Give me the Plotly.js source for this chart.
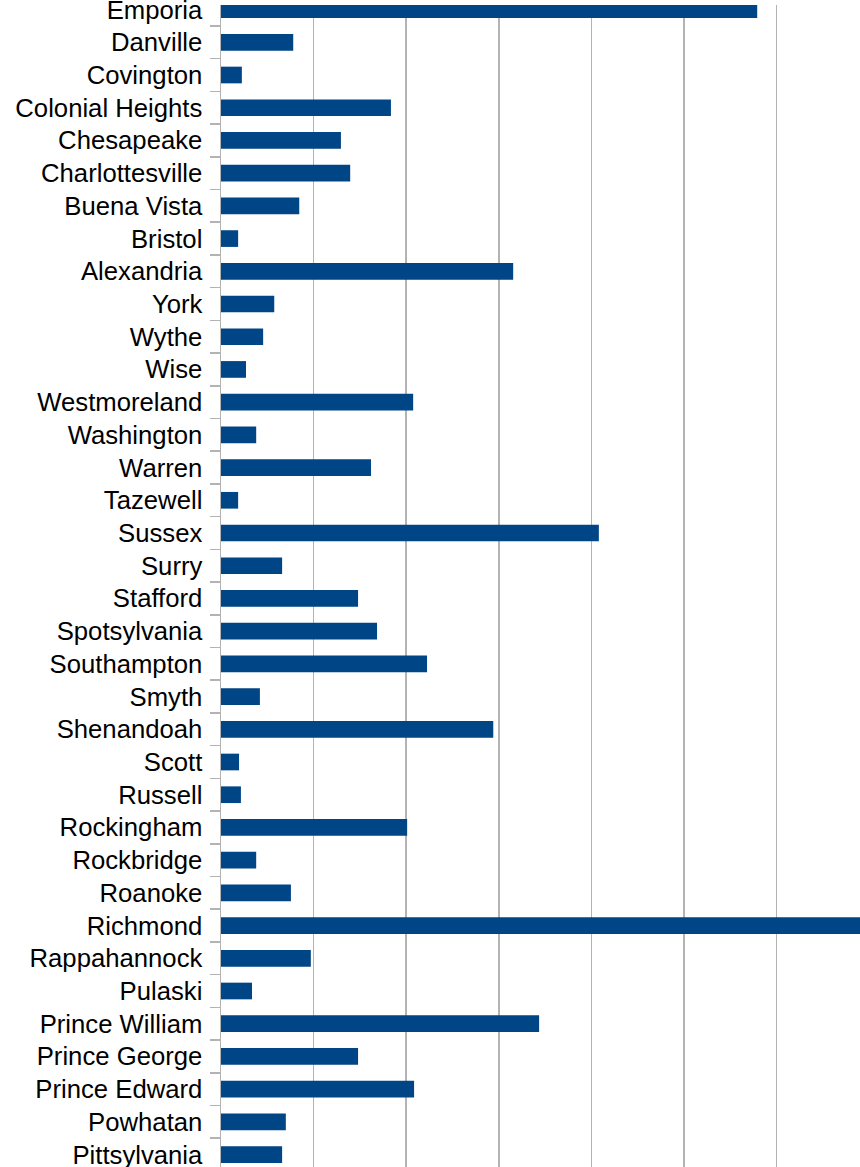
<!DOCTYPE html>
<html>
<head>
<meta charset="utf-8">
<script src="https://cdn.plot.ly/plotly-3.0.1.min.js"></script>
<style>html,body{margin:0;padding:0;background:#fff;}#chart{width:860px;height:1167px;}</style>
</head>
<body>
<div id="chart"></div>
<script>
const categories = ["Emporia","Danville","Covington","Colonial Heights","Chesapeake","Charlottesville","Buena Vista","Bristol","Alexandria","York","Wythe","Wise","Westmoreland","Washington","Warren","Tazewell","Sussex","Surry","Stafford","Spotsylvania","Southampton","Smyth","Shenandoah","Scott","Russell","Rockingham","Rockbridge","Roanoke","Richmond","Rappahannock","Pulaski","Prince William","Prince George","Prince Edward","Powhatan","Pittsylvania"];
const values = [11.58,1.56,0.45,3.67,2.59,2.79,1.69,0.37,6.31,1.15,0.91,0.54,4.15,0.76,3.24,0.37,8.16,1.32,2.96,3.37,4.45,0.84,5.88,0.39,0.43,4.02,0.76,1.51,14.0,1.94,0.67,6.87,2.96,4.17,1.40,1.32];

const trace = {
  type: 'bar',
  orientation: 'h',
  y: categories,
  x: values,
  marker: {color: '#004586'},
  hoverinfo: 'x+y'
};
const layout = {
  width: 860, height: 1167,
  margin: {l: 221, r: 0, t: 5, b: 0, pad: 0},
  paper_bgcolor: '#fff', plot_bgcolor: '#fff',
  bargap: 0.49,
  showlegend: false,
  font: {family: 'Liberation Sans, Arial, sans-serif', color: '#000'},
  xaxis: {
    range: [0, 13.80], dtick: 2, tick0: 0,
    showgrid: true, gridcolor: '#b3b3b3', gridwidth: 1.5,
    zeroline: false, showticklabels: false, ticks: '', showline: false
  },
  yaxis: {
    type: 'category',
    categoryorder: 'array', categoryarray: categories,
    range: [35.38, -0.14],
    showgrid: false, zeroline: false,
    showline: true, linecolor: '#b3b3b3', linewidth: 1.5,
    ticks: 'outside', tickson: 'boundaries', ticklen: 10, tickcolor: '#b3b3b3', tickwidth: 1.5,
    ticklabelstandoff: 12,
    tickfont: {size: 25.7, color: '#000', family: 'Liberation Sans, Arial, sans-serif'},
    automargin: false
  }
};
Plotly.newPlot('chart', [trace], layout, {displayModeBar: false, staticPlot: true});
</script>
</body>
</html>
